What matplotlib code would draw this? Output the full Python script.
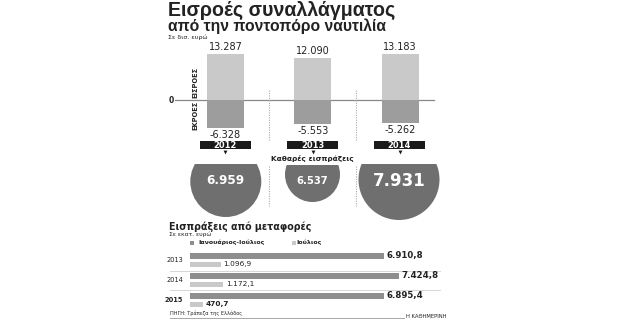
import matplotlib
matplotlib.use("Agg")
import matplotlib.pyplot as plt
from matplotlib.patches import Circle, Rectangle

plt.rcParams['font.family'] = ['DejaVu Sans']

# top chart: inflows / outflows, billions of euro
years = ['2012', '2013', '2014']
inflows = [13.287, 12.090, 13.183]
outflows = [-6.328, -5.553, -5.262]
net = [6.959, 6.537, 7.931]

# bottom chart: transport receipts, millions of euro
years_b = ['2013', '2014', '2015']
jan_jul = [6910.8, 7424.8, 6895.4]
july = [1096.9, 1172.1, 470.7]


def fmt_gr(v, dec):
    s = f"{v:,.{dec}f}"
    return s.replace(',', 'X').replace('.', ',').replace('X', '.')


W, H = 620, 320
fig = plt.figure(figsize=(W / 100, H / 100), dpi=100)


def px_axes(x0, y0, x1, y1):
    return fig.add_axes([x0 / W, 1 - y1 / H, (x1 - x0) / W, (y1 - y0) / H])


def fit_width(t, target):
    # shrink/grow a text so it spans about target pixels
    r = fig.canvas.get_renderer()
    w = t.get_window_extent(r).width
    t.set_fontsize(t.get_fontsize() * target / w)


# overlay in pixel coords for texts and decorations
ov = px_axes(0, 0, W, H)
ov.set_xlim(0, W)
ov.set_ylim(H, 0)
ov.axis('off')

txt = '#222222'
light = '#c9c9c9'
mid = '#9d9d9d'
dark_bar = '#8e8e8e'
circ = '#6f6f6f'

# titles
t1 = ov.text(168, 16, 'Εισροές συναλλάγματος', fontsize=12, fontweight='bold', color=txt,
             va='baseline', family='Liberation Sans')
fit_width(t1, 226)
t2 = ov.text(168, 31.5, 'από την ποντοπόρο ναυτιλία', fontsize=12, fontweight='bold', color=txt,
             va='baseline', family='Liberation Sans')
fit_width(t2, 216)
ov.text(168, 37.5, 'Σε δισ. ευρώ', fontsize=4.5, color=txt, va='center')

# top bars
zero_y = 100.3
xl = (-(225.5 - 175) / 87.3, (435 - 225.5) / 87.3)
ax_in = px_axes(175, 40, 435, zero_y)
ax_out = px_axes(175, zero_y, 435, 140)
ax_in.set_ylim(0, (zero_y - 40) / 3.51)
ax_out.set_ylim(-(140 - zero_y) / 4.32, 0)
xs = list(range(len(years)))
for a in (ax_in, ax_out):
    a.set_xlim(*xl)
    a.axis('off')
ax_in.bar(xs, inflows, width=0.425, color=light)
ax_out.bar(xs, outflows, width=0.425, color=mid)
for x, v in zip(xs, inflows):
    ax_in.annotate(f"{v:.3f}", (x, v), xytext=(0, 1.5), textcoords='offset points',
                   ha='center', va='bottom', fontsize=7, color=txt, annotation_clip=False)
for x, v in zip(xs, outflows):
    ax_out.annotate('-' + f"{abs(v):.3f}", (x, v), xytext=(0, -1.5), textcoords='offset points',
                    ha='center', va='top', fontsize=7, color=txt, annotation_clip=False)

ov.plot([175, 434], [zero_y, zero_y], color='#888888', lw=0.9)
ov.text(171, zero_y, '0', fontsize=5.5, fontweight='bold', ha='center', va='center', color=txt)
ov.text(195, 82, 'ΕΙΣΡΟΕΣ', rotation=90, fontsize=4.8, fontweight='bold', ha='center', va='center',
        color=txt)
ov.text(195, 115, 'ΕΚΡΟΕΣ', rotation=90, fontsize=4.8, fontweight='bold', ha='center', va='center',
        color=txt)

centers = [225.3, 312.5, 399.5]
for cx, yr in zip(centers, years):
    ov.add_patch(Rectangle((cx - 25.5, 141), 51, 8, color='#1a1a1a', lw=0))
    ov.text(cx, 145.3, yr, fontsize=6, fontweight='bold', color='white', ha='center', va='center')
    ov.plot(cx, 152, marker='v', color='#1a1a1a', ms=2.8, mew=0)

for sx in [268.9, 356.3]:
    ov.plot([sx, sx], [90, 140], color='#aaaaaa', lw=0.8, ls=(0, (1, 1.2)))
    ov.plot([sx, sx], [166, 206], color='#aaaaaa', lw=0.8, ls=(0, (1, 1.2)))

ov.text(312.5, 159, 'Καθαρές εισπράξεις', fontsize=5.3, fontweight='bold', ha='center', va='center', color=txt)

# net receipts circles (cut flat at the top)
circ_geo = [(225.8, 181.5, 35.5, 163.5), (312.5, 174.5, 27.5, 165), (399.0, 179.5, 40.5, 163.5)]
net_size = [8.7, 7.2, 12]
for (cx, cy, r, top), v, fs in zip(circ_geo, net, net_size):
    c = Circle((cx, cy), r, color=circ, lw=0)
    ov.add_patch(c)
    clip = Rectangle((cx - r - 1, top), 2 * r + 2, 2 * r + 2, transform=ov.transData)
    c.set_clip_path(clip)
    ov.text(cx, 180.5, f"{v:.3f}", fontsize=fs, fontweight='bold', color='white', ha='center', va='center')

# bottom section
t3 = ov.text(169, 229.5, 'Εισπράξεις από μεταφορές', fontsize=7.5, fontweight='bold', color=txt,
             va='baseline')
fit_width(t3, 143)
ov.text(169, 234.7, 'Σε εκατ. ευρώ', fontsize=4.3, color=txt, va='center')
ov.add_patch(Rectangle((189.5, 240.7), 4, 4, color=dark_bar, lw=0))
ov.text(198, 242.7, 'Ιανουάριος-Ιούλιος', fontsize=4.5, fontweight='bold', color=txt, va='center')
ov.add_patch(Rectangle((291.5, 240.7), 4, 4, color=light, lw=0))
ov.text(296.7, 242.7, 'Ιούλιος', fontsize=4.5, fontweight='bold', color=txt, va='center')

for sy in [270.7, 290]:
    ov.plot([170, 440], [sy, sy], color='#d0d0d0', lw=0.6)

axb = px_axes(190, 250, 443, 310)
axb.set_xlim(0, 253 / 0.0281)
axb.set_ylim(2.5, -0.5)
axb.axis('off')
ys = list(range(len(years_b)))
axb.barh([y - 0.22 for y in ys], jan_jul, height=0.3, color=dark_bar)
axb.barh([y + 0.22 for y in ys], july, height=0.27, color=light)
for i, (y, a, b) in enumerate(zip(ys, jan_jul, july)):
    bold = 'bold' if i == len(ys) - 1 else 'normal'
    axb.annotate(fmt_gr(a, 1), (a, y - 0.22), xytext=(2, 0), textcoords='offset points',
                 ha='left', va='center', fontsize=6.2, fontweight='bold', color=txt)
    axb.annotate(fmt_gr(b, 1), (b, y + 0.22), xytext=(2, 0), textcoords='offset points',
                 ha='left', va='center', fontsize=5.3, fontweight=bold, color=txt)
    axb.annotate(years_b[i], (0, y), xytext=(-5, 0), textcoords='offset points',
                 ha='right', va='center', fontsize=4.8, fontweight=bold, color=txt, annotation_clip=False)

ov.text(170, 313, 'ΠΗΓΗ: Τράπεζα της Ελλάδος', fontsize=3.6, color=txt, va='center')
ov.plot([170, 404], [317.7, 317.7], color='#999999', lw=0.6)
ov.text(406, 317, 'Η ΚΑΘΗΜΕΡΙΝΗ', fontsize=3.8, color=txt, va='center')

fig.savefig('out.png', dpi=100, facecolor='white')
